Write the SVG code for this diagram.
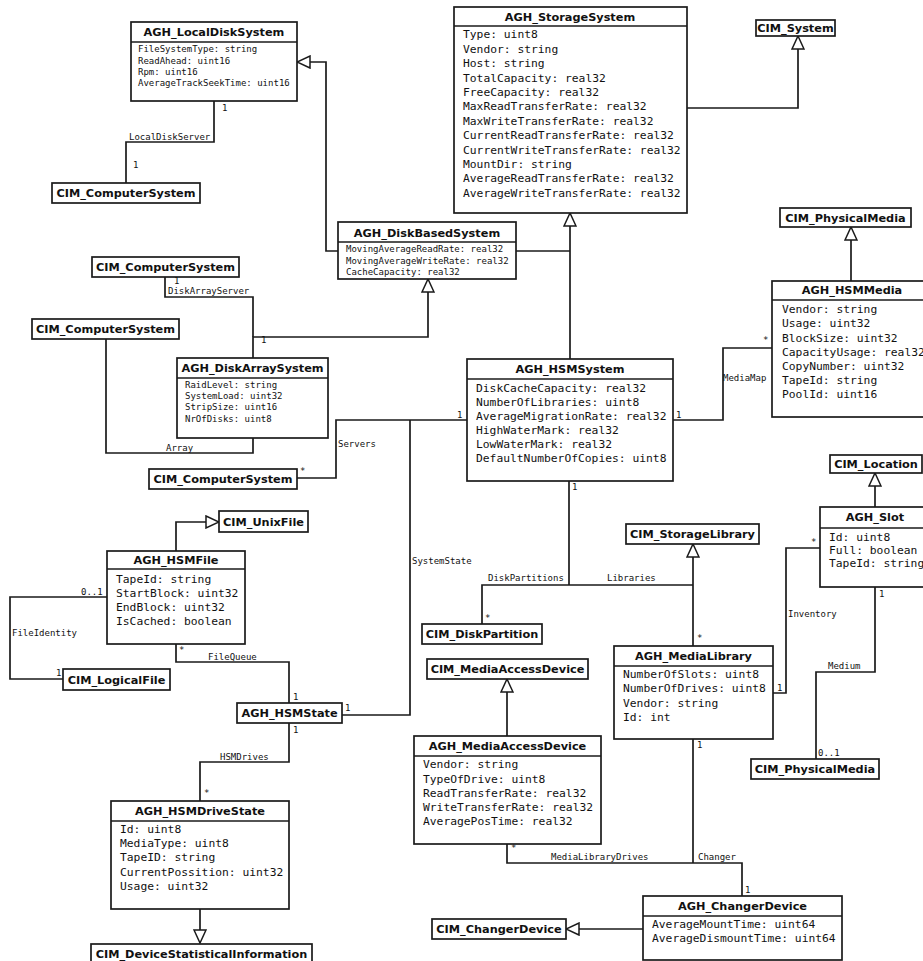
<svg xmlns="http://www.w3.org/2000/svg" width="923" height="961" viewBox="0 0 923 961">
<style>
.b{fill:#fff;stroke:#1a1a1a;stroke-width:1.7}
.ln{fill:none;stroke:#1a1a1a;stroke-width:1.7}
.g{fill:none;stroke:#1a1a1a;stroke-width:1.7;marker-end:url(#gen)}
.t{font-family:"DejaVu Sans",sans-serif;font-weight:bold;font-size:11.3px;text-anchor:middle;fill:#111}
.a{font-family:"DejaVu Sans Mono",monospace;font-size:11.3px;fill:#111}
.s{font-family:"DejaVu Sans Mono",monospace;font-size:9px;fill:#111}
.l{font-family:"DejaVu Sans Mono",monospace;font-size:9px;fill:#111}
</style>
<defs>
<marker id="gen" viewBox="0 0 15 14" refX="14" refY="7" markerWidth="15" markerHeight="14" markerUnits="userSpaceOnUse" orient="auto">
<path d="M1,1 L14,7 L1,13 Z" fill="#fff" stroke="#1a1a1a" stroke-width="1.5"/>
</marker>
</defs>

<g id="connectors">
<polyline class="g" points="338,251 326,251 326,62 297,62"/>
<polyline class="ln" points="214,101 214,142 126,142 126,183"/>
<polyline class="g" points="687,108 798,108 798,36"/>
<polyline class="g" points="570,359 570,213"/>
<polyline class="ln" points="516,251 570,251"/>
<polyline class="g" points="253,358 253,337 428,337 428,279"/>
<polyline class="ln" points="165,277 165,297 253,297 253,337"/>
<polyline class="ln" points="106,339 106,453 253,453 253,438"/>
<polyline class="ln" points="297,478 336,478 336,420 467,420"/>
<polyline class="ln" points="342,715 410,715 410,420"/>
<polyline class="ln" points="673,420 723,420 723,348 772,348"/>
<polyline class="g" points="851,281 851,227"/>
<polyline class="g" points="875,507 875,473"/>
<polyline class="ln" points="569,481 569,585"/>
<polyline class="ln" points="482,624 482,585 693,585"/>
<polyline class="g" points="693,646 693,544"/>
<polyline class="ln" points="820,548 786,548 786,693 773,693"/>
<polyline class="ln" points="875,587 875,672 816,672 816,759"/>
<polyline class="g" points="507,736 507,679"/>
<polyline class="ln" points="507,844 507,863 742,863 742,896"/>
<polyline class="ln" points="693,739 693,863"/>
<polyline class="g" points="643,929 566,929"/>
<polyline class="g" points="176,551 176,522 219,522"/>
<polyline class="ln" points="107,597 10,597 10,679 63,679"/>
<polyline class="ln" points="176,644 176,662 289,662 289,703"/>
<polyline class="ln" points="289,723 289,762 200,762 200,801"/>
<polyline class="g" points="200,909 200,943"/>

<text class="l" x="222" y="111">1</text>
<text class="l" x="129" y="140">LocalDiskServer</text>
<text class="l" x="133" y="168">1</text>
<text class="l" x="174" y="283.5" font-size="8.5">1</text>
<text class="l" x="168" y="294">DiskArrayServer</text>
<text class="l" x="261" y="343">1</text>
<text class="l" x="166" y="451">Array</text>
<text class="l" x="338" y="447">Servers</text>
<text class="l" x="300" y="474">*</text>
<text class="l" x="457" y="418">1</text>
<text class="l" x="676" y="418">1</text>
<text class="l" x="723" y="381">MediaMap</text>
<text class="l" x="763" y="343">*</text>
<text class="l" x="412" y="564">SystemState</text>
<text class="l" x="572" y="490">1</text>
<text class="l" x="488" y="581">DiskPartitions</text>
<text class="l" x="607" y="581">Libraries</text>
<text class="l" x="485" y="621">*</text>
<text class="l" x="697" y="641">*</text>
<text class="l" x="811" y="545">*</text>
<text class="l" x="788" y="617">Inventory</text>
<text class="l" x="777" y="691">1</text>
<text class="l" x="879" y="597">1</text>
<text class="l" x="828" y="669">Medium</text>
<text class="l" x="818" y="756">0..1</text>
<text class="l" x="697" y="748">1</text>
<text class="l" x="81" y="595">0..1</text>
<text class="l" x="12" y="636">FileIdentity</text>
<text class="l" x="56" y="676">1</text>
<text class="l" x="179" y="653">*</text>
<text class="l" x="208" y="660">FileQueue</text>
<text class="l" x="293" y="700">1</text>
<text class="l" x="345" y="711">1</text>
<text class="l" x="293" y="733">1</text>
<text class="l" x="220" y="760">HSMDrives</text>
<text class="l" x="204" y="796">*</text>
<text class="l" x="511" y="851">*</text>
<text class="l" x="551" y="860">MediaLibraryDrives</text>
<text class="l" x="698" y="860">Changer</text>
<text class="l" x="745" y="893">1</text>
</g>

<g id="AGH_LocalDiskSystem">
<rect class="b" x="131" y="22" width="166" height="79"/>
<line class="ln" x1="131" y1="42" x2="297" y2="42"/>
<text class="t" x="214" y="36">AGH_LocalDiskSystem</text>
<text class="s" x="138" y="52">FileSystemType: string</text>
<text class="s" x="138" y="64">ReadAhead: uint16</text>
<text class="s" x="138" y="75">Rpm: uint16</text>
<text class="s" x="138" y="86">AverageTrackSeekTime: uint16</text>
</g>

<g id="CIM_ComputerSystem_1">
<rect class="b" x="52" y="183" width="148" height="20"/>
<text class="t" x="126" y="197">CIM_ComputerSystem</text>
</g>

<g id="AGH_StorageSystem">
<rect class="b" x="454" y="7" width="233" height="206"/>
<line class="ln" x1="454" y1="26" x2="687" y2="26"/>
<text class="t" x="570" y="21">AGH_StorageSystem</text>
<text class="a" x="463" y="38.3">Type: uint8</text>
<text class="a" x="463" y="52.7">Vendor: string</text>
<text class="a" x="463" y="67.1">Host: string</text>
<text class="a" x="463" y="81.5">TotalCapacity: real32</text>
<text class="a" x="463" y="95.9">FreeCapacity: real32</text>
<text class="a" x="463" y="110.3">MaxReadTransferRate: real32</text>
<text class="a" x="463" y="124.7">MaxWriteTransferRate: real32</text>
<text class="a" x="463" y="139.1">CurrentReadTransferRate: real32</text>
<text class="a" x="463" y="153.5">CurrentWriteTransferRate: real32</text>
<text class="a" x="463" y="167.9">MountDir: string</text>
<text class="a" x="463" y="182.3">AverageReadTransferRate: real32</text>
<text class="a" x="463" y="196.7">AverageWriteTransferRate: real32</text>
</g>

<g id="CIM_System">
<rect class="b" x="756" y="20" width="79" height="16"/>
<text class="t" x="795.5" y="32">CIM_System</text>
</g>

<g id="AGH_DiskBasedSystem">
<rect class="b" x="338" y="222" width="178" height="57"/>
<line class="ln" x1="338" y1="242" x2="516" y2="242"/>
<text class="t" x="427" y="237">AGH_DiskBasedSystem</text>
<text class="s" x="346" y="252">MovingAverageReadRate: real32</text>
<text class="s" x="346" y="264">MovingAverageWriteRate: real32</text>
<text class="s" x="346" y="275">CacheCapacity: real32</text>
</g>

<g id="CIM_PhysicalMedia_1">
<rect class="b" x="780" y="208" width="131" height="19"/>
<text class="t" x="845.5" y="222">CIM_PhysicalMedia</text>
</g>

<g id="CIM_ComputerSystem_2">
<rect class="b" x="92" y="257" width="147" height="20"/>
<text class="t" x="165.5" y="271">CIM_ComputerSystem</text>
</g>

<g id="CIM_ComputerSystem_3">
<rect class="b" x="32" y="319" width="147" height="20"/>
<text class="t" x="105.5" y="333">CIM_ComputerSystem</text>
</g>

<g id="AGH_DiskArraySystem">
<rect class="b" x="177" y="358" width="151" height="80"/>
<line class="ln" x1="177" y1="378" x2="328" y2="378"/>
<text class="t" x="252.5" y="372">AGH_DiskArraySystem</text>
<text class="s" x="185" y="388">RaidLevel: string</text>
<text class="s" x="185" y="399">SystemLoad: uint32</text>
<text class="s" x="185" y="410">StripSize: uint16</text>
<text class="s" x="185" y="422">NrOfDisks: uint8</text>
</g>

<g id="AGH_HSMSystem">
<rect class="b" x="467" y="359" width="206" height="122"/>
<line class="ln" x1="467" y1="379" x2="673" y2="379"/>
<text class="t" x="570" y="373">AGH_HSMSystem</text>
<text class="a" x="476" y="392">DiskCacheCapacity: real32</text>
<text class="a" x="476" y="406">NumberOfLibraries: uint8</text>
<text class="a" x="476" y="420">AverageMigrationRate: real32</text>
<text class="a" x="476" y="434">HighWaterMark: real32</text>
<text class="a" x="476" y="448">LowWaterMark: real32</text>
<text class="a" x="476" y="462">DefaultNumberOfCopies: uint8</text>
</g>

<g id="AGH_HSMMedia">
<rect class="b" x="772" y="281" width="160" height="136"/>
<line class="ln" x1="772" y1="300" x2="932" y2="300"/>
<text class="t" x="852" y="294">AGH_HSMMedia</text>
<text class="a" x="782" y="313">Vendor: string</text>
<text class="a" x="782" y="327">Usage: uint32</text>
<text class="a" x="782" y="341.5">BlockSize: uint32</text>
<text class="a" x="782" y="355.5">CapacityUsage: real32</text>
<text class="a" x="782" y="369.5">CopyNumber: uint32</text>
<text class="a" x="782" y="384">TapeId: string</text>
<text class="a" x="782" y="398">PoolId: uint16</text>
</g>

<g id="CIM_ComputerSystem_4">
<rect class="b" x="149" y="469" width="148" height="20"/>
<text class="t" x="223" y="483">CIM_ComputerSystem</text>
</g>

<g id="CIM_Location">
<rect class="b" x="830" y="455" width="92" height="18"/>
<text class="t" x="876" y="468">CIM_Location</text>
</g>

<g id="AGH_Slot">
<rect class="b" x="820" y="507" width="110" height="80"/>
<line class="ln" x1="820" y1="528" x2="930" y2="528"/>
<text class="t" x="875" y="521">AGH_Slot</text>
<text class="a" x="829" y="541">Id: uint8</text>
<text class="a" x="829" y="554">Full: boolean</text>
<text class="a" x="829" y="567">TapeId: string</text>
</g>

<g id="CIM_UnixFile">
<rect class="b" x="219" y="511" width="89" height="21"/>
<text class="t" x="263.5" y="526">CIM_UnixFile</text>
</g>

<g id="AGH_HSMFile">
<rect class="b" x="107" y="551" width="138" height="93"/>
<line class="ln" x1="107" y1="569" x2="245" y2="569"/>
<text class="t" x="176" y="564">AGH_HSMFile</text>
<text class="a" x="116" y="583">TapeId: string</text>
<text class="a" x="116" y="597">StartBlock: uint32</text>
<text class="a" x="116" y="611">EndBlock: uint32</text>
<text class="a" x="116" y="625">IsCached: boolean</text>
</g>

<g id="CIM_StorageLibrary">
<rect class="b" x="626" y="524" width="133" height="20"/>
<text class="t" x="692.5" y="538">CIM_StorageLibrary</text>
</g>

<g id="CIM_DiskPartition">
<rect class="b" x="422" y="624" width="120" height="20"/>
<text class="t" x="482" y="638">CIM_DiskPartition</text>
</g>

<g id="CIM_MediaAccessDevice">
<rect class="b" x="427" y="659" width="161" height="20"/>
<text class="t" x="507.5" y="673">CIM_MediaAccessDevice</text>
</g>

<g id="AGH_MediaLibrary">
<rect class="b" x="614" y="646" width="159" height="93"/>
<line class="ln" x1="614" y1="666" x2="773" y2="666"/>
<text class="t" x="693.5" y="660">AGH_MediaLibrary</text>
<text class="a" x="623" y="678">NumberOfSlots: uint8</text>
<text class="a" x="623" y="692">NumberOfDrives: uint8</text>
<text class="a" x="623" y="706.5">Vendor: string</text>
<text class="a" x="623" y="720.5">Id: int</text>
</g>

<g id="CIM_LogicalFile">
<rect class="b" x="63" y="669" width="107" height="21"/>
<text class="t" x="116.5" y="684">CIM_LogicalFile</text>
</g>

<g id="AGH_HSMState">
<rect class="b" x="237" y="703" width="105" height="20"/>
<text class="t" x="289.5" y="717">AGH_HSMState</text>
</g>

<g id="CIM_PhysicalMedia_2">
<rect class="b" x="751" y="759" width="128" height="20"/>
<text class="t" x="815" y="773">CIM_PhysicalMedia</text>
</g>

<g id="AGH_MediaAccessDevice">
<rect class="b" x="414" y="736" width="187" height="108"/>
<line class="ln" x1="414" y1="756" x2="601" y2="756"/>
<text class="t" x="507.5" y="750">AGH_MediaAccessDevice</text>
<text class="a" x="423" y="768">Vendor: string</text>
<text class="a" x="423" y="782.5">TypeOfDrive: uint8</text>
<text class="a" x="423" y="797">ReadTransferRate: real32</text>
<text class="a" x="423" y="811">WriteTransferRate: real32</text>
<text class="a" x="423" y="825">AveragePosTime: real32</text>
</g>

<g id="AGH_HSMDriveState">
<rect class="b" x="111" y="801" width="178" height="108"/>
<line class="ln" x1="111" y1="821" x2="289" y2="821"/>
<text class="t" x="200" y="815">AGH_HSMDriveState</text>
<text class="a" x="120" y="833">Id: uint8</text>
<text class="a" x="120" y="847">MediaType: uint8</text>
<text class="a" x="120" y="861">TapeID: string</text>
<text class="a" x="120" y="875.5">CurrentPossition: uint32</text>
<text class="a" x="120" y="889.5">Usage: uint32</text>
</g>

<g id="CIM_DeviceStatisticalInformation">
<rect class="b" x="91" y="944" width="221" height="20"/>
<text class="t" x="201.5" y="958">CIM_DeviceStatisticalInformation</text>
</g>

<g id="AGH_ChangerDevice">
<rect class="b" x="643" y="896" width="199" height="64"/>
<line class="ln" x1="643" y1="916" x2="842" y2="916"/>
<text class="t" x="742.5" y="910">AGH_ChangerDevice</text>
<text class="a" x="652" y="928">AverageMountTime: uint64</text>
<text class="a" x="652" y="942">AverageDismountTime: uint64</text>
</g>

<g id="CIM_ChangerDevice">
<rect class="b" x="432" y="919" width="134" height="20"/>
<text class="t" x="499" y="933">CIM_ChangerDevice</text>
</g>
</svg>
